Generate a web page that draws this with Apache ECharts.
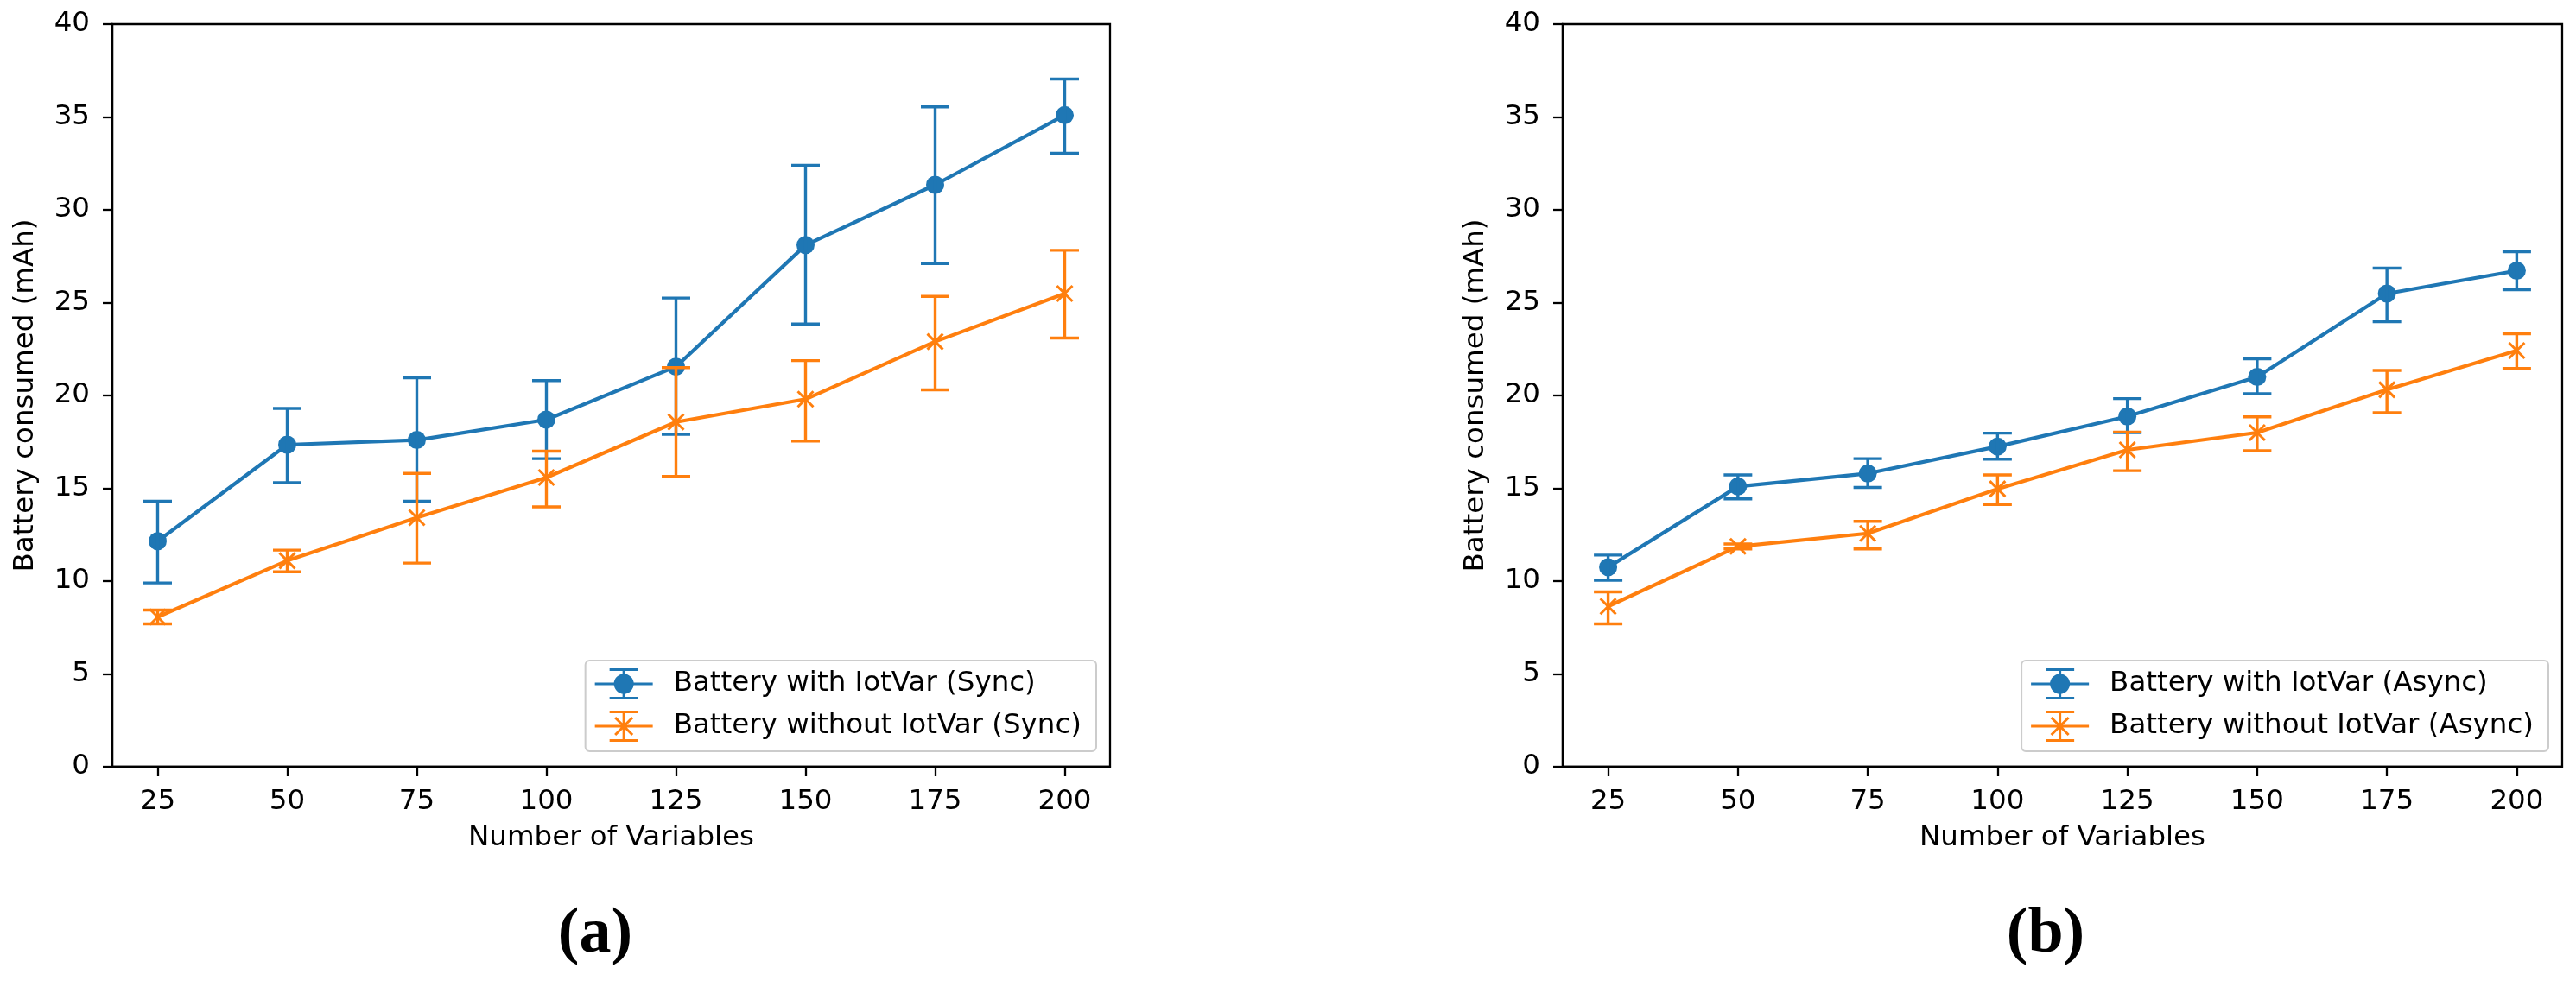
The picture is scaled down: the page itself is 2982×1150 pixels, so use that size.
<!DOCTYPE html>
<html>
<head>
<meta charset="utf-8">
<style>
  html, body { margin: 0; padding: 0; background: #ffffff; }
  #chart { width: 2982px; height: 1150px; }
</style>
<script src="https://cdn.jsdelivr.net/npm/echarts@6/dist/echarts.min.js"></script>
</head>
<body>
<div id="chart"></div>
<script>
// ---------------- data ----------------
const xValues = [25, 50, 75, 100, 125, 150, 175, 200];
const yTicks = [0, 5, 10, 15, 20, 25, 30, 35, 40];

const syncWith      = [12.15, 17.35, 17.6, 18.7, 21.55, 28.1, 31.35, 35.1];
const syncWithLow   = [9.9, 15.3, 14.3, 16.6, 17.9, 23.85, 27.1, 33.05];
const syncWithHigh  = [14.3, 19.3, 20.95, 20.8, 25.25, 32.4, 35.55, 37.05];

const syncWithout     = [8.07, 11.1, 13.42, 15.58, 18.57, 19.8, 22.9, 25.49];
const syncWithoutLow  = [7.7, 10.5, 10.97, 14.0, 15.64, 17.55, 20.3, 23.09];
const syncWithoutHigh = [8.44, 11.67, 15.8, 17.0, 21.5, 21.88, 25.34, 27.82];

const asyncWith     = [10.75, 15.1, 15.8, 17.25, 18.87, 21.0, 25.49, 26.72];
const asyncWithLow  = [10.04, 14.43, 15.05, 16.57, 18.0, 20.1, 23.97, 25.7];
const asyncWithHigh = [11.4, 15.72, 16.6, 17.97, 19.83, 21.97, 26.86, 27.74];

const asyncWithout     = [8.64, 11.87, 12.57, 14.97, 17.07, 18.0, 20.31, 22.42];
const asyncWithoutLow  = [7.7, 11.73, 11.73, 14.12, 15.95, 17.02, 19.07, 21.46];
const asyncWithoutHigh = [9.42, 12.0, 13.22, 15.72, 18.03, 18.85, 21.35, 23.32];

const names = {
  syncWith: 'Battery with IotVar (Sync)',
  syncWithout: 'Battery without IotVar (Sync)',
  asyncWith: 'Battery with IotVar (Async)',
  asyncWithout: 'Battery without IotVar (Async)'
};
const captions = ['(a)', '(b)'];
const xName = 'Number of Variables';
const yName = 'Battery consumed (mAh)';

// ---------------- style ----------------
const BLUE = '#1f77b4';
const ORANGE = '#ff7f0e';
const FONT = 'DejaVu Sans';
const FS = 32.5;
const W = 2982;

const circleIcon = 'path://M0,16.5H67V19.5H0Z M32,0H35V36H32Z M17,0H50V3H17Z M17,33H50V36H17Z M22,18A11.5,11.5 0 1 1 45,18A11.5,11.5 0 1 1 22,18Z';
const crossIcon = 'path://M0,16.5H67V19.5H0Z M32,0H35V36H32Z M17,0H50V3H17Z M17,33H50V36H17Z M24.56,6.94L44.56,26.94L42.44,29.06L22.44,9.06Z M44.56,9.06L24.56,29.06L22.44,26.94L42.44,6.94Z';

function zip(xs, ys) { return xs.map((x, i) => [x, ys[i]]); }
function errData(xs, lo, hi, mid) { return xs.map((x, i) => [x, lo[i], hi[i], mid[i]]); }

function errRender(color, marker) {
  return function (params, api) {
    const x = api.value(0);
    const top = api.coord([x, api.value(2)]);
    const bot = api.coord([x, api.value(1)]);
    const mid = api.coord([x, api.value(3)]);
    const cap = 16.5;
    const ls = { stroke: color, lineWidth: 3.4, lineCap: 'butt' };
    const children = [
      { type: 'line', shape: { x1: top[0], y1: top[1], x2: bot[0], y2: bot[1] }, style: ls },
      { type: 'line', shape: { x1: top[0] - cap, y1: top[1], x2: top[0] + cap, y2: top[1] }, style: ls },
      { type: 'line', shape: { x1: bot[0] - cap, y1: bot[1], x2: bot[0] + cap, y2: bot[1] }, style: ls }
    ];
    if (marker === 'x') {
      const h = 9;
      const ms = { stroke: color, lineWidth: 3, lineCap: 'butt' };
      children.push({ type: 'line', shape: { x1: mid[0] - h, y1: mid[1] - h, x2: mid[0] + h, y2: mid[1] + h }, style: ms });
      children.push({ type: 'line', shape: { x1: mid[0] - h, y1: mid[1] + h, x2: mid[0] + h, y2: mid[1] - h }, style: ms });
    }
    return { type: 'group', children: children };
  };
}

function makeX(gridIndex) {
  return {
    type: 'value', gridIndex: gridIndex, min: 16.25, max: 208.75,
    name: xName, nameLocation: 'middle', nameGap: 66,
    nameTextStyle: { fontFamily: FONT, fontSize: FS, color: '#000' },
    axisLine: { show: true, onZero: false, lineStyle: { color: '#000', width: 2.3 } },
    axisTick: { show: true, inside: false, length: 11, customValues: xValues, lineStyle: { color: '#000', width: 2.3 } },
    axisLabel: { show: true, customValues: xValues, margin: 24, fontFamily: FONT, fontSize: FS, color: '#000' },
    splitLine: { show: false }
  };
}
function makeY(gridIndex) {
  return {
    type: 'value', gridIndex: gridIndex, min: 0, max: 40, interval: 5,
    name: yName, nameLocation: 'middle', nameGap: 84, nameRotate: 90,
    nameTextStyle: { fontFamily: FONT, fontSize: FS, color: '#000' },
    axisLine: { show: true, lineStyle: { color: '#000', width: 2.3 } },
    axisTick: { show: true, inside: false, length: 11, lineStyle: { color: '#000', width: 2.3 } },
    axisLabel: { show: true, margin: 26, fontFamily: FONT, fontSize: FS, color: '#000',
      formatter: function (v) { return yTicks.indexOf(v) >= 0 ? String(v) : ''; } },
    splitLine: { show: false }
  };
}
function makeLegend(right, nA, nB) {
  return {
    orient: 'vertical', right: right, top: 765,
    itemWidth: 67, itemHeight: 36, itemGap: 13,
    padding: [9, 17, 11, 11],
    backgroundColor: 'rgba(255,255,255,0.8)',
    borderColor: '#cccccc', borderWidth: 2, borderRadius: 5,
    selectedMode: false,
    textStyle: { fontFamily: FONT, fontSize: FS, color: '#000', lineHeight: 36, padding: [0, 0, 0, 19] },
    data: [
      { name: nA, icon: circleIcon, itemStyle: { color: BLUE } },
      { name: nB, icon: crossIcon, itemStyle: { color: ORANGE } }
    ]
  };
}
function lineSeries(name, idx, xs, ys, color, symbol) {
  return {
    type: 'line', name: name, xAxisIndex: idx, yAxisIndex: idx,
    data: zip(xs, ys), symbol: symbol, symbolSize: 21, showSymbol: symbol !== 'none',
    lineStyle: { color: color, width: 4.2 }, itemStyle: { color: color },
    animation: false, silent: true, z: 2
  };
}
function errSeries(name, idx, data, color, marker) {
  return {
    type: 'custom', name: name, xAxisIndex: idx, yAxisIndex: idx,
    data: data, renderItem: errRender(color, marker),
    animation: false, silent: true, z: 3
  };
}

const chart = echarts.init(document.getElementById('chart'), null, { renderer: 'canvas' });
chart.setOption({
  backgroundColor: '#ffffff',
  animation: false,
  grid: [
    { left: 130, right: W - 1285, top: 28, bottom: 262, show: true, borderColor: '#000', borderWidth: 2.3, backgroundColor: 'transparent' },
    { left: 1809, right: W - 2966, top: 28, bottom: 262, show: true, borderColor: '#000', borderWidth: 2.3, backgroundColor: 'transparent' }
  ],
  xAxis: [makeX(0), makeX(1)],
  yAxis: [makeY(0), makeY(1)],
  legend: [
    makeLegend(W - 1269, names.syncWith, names.syncWithout),
    makeLegend(W - 2950, names.asyncWith, names.asyncWithout)
  ],
  series: [
    lineSeries(names.syncWith, 0, xValues, syncWith, BLUE, 'circle'),
    errSeries(names.syncWith, 0, errData(xValues, syncWithLow, syncWithHigh, syncWith), BLUE, 'o'),
    lineSeries(names.syncWithout, 0, xValues, syncWithout, ORANGE, 'none'),
    errSeries(names.syncWithout, 0, errData(xValues, syncWithoutLow, syncWithoutHigh, syncWithout), ORANGE, 'x'),
    lineSeries(names.asyncWith, 1, xValues, asyncWith, BLUE, 'circle'),
    errSeries(names.asyncWith, 1, errData(xValues, asyncWithLow, asyncWithHigh, asyncWith), BLUE, 'o'),
    lineSeries(names.asyncWithout, 1, xValues, asyncWithout, ORANGE, 'none'),
    errSeries(names.asyncWithout, 1, errData(xValues, asyncWithoutLow, asyncWithoutHigh, asyncWithout), ORANGE, 'x')
  ],
  graphic: [
    { type: 'text', x: 689, y: 1083, style: { text: captions[0], fontFamily: 'Liberation Serif', fontWeight: 'bold', fontSize: 74, fill: '#000', align: 'center', verticalAlign: 'middle' } },
    { type: 'text', x: 2368, y: 1083, style: { text: captions[1], fontFamily: 'Liberation Serif', fontWeight: 'bold', fontSize: 74, fill: '#000', align: 'center', verticalAlign: 'middle' } }
  ]
});
</script>
</body>
</html>
